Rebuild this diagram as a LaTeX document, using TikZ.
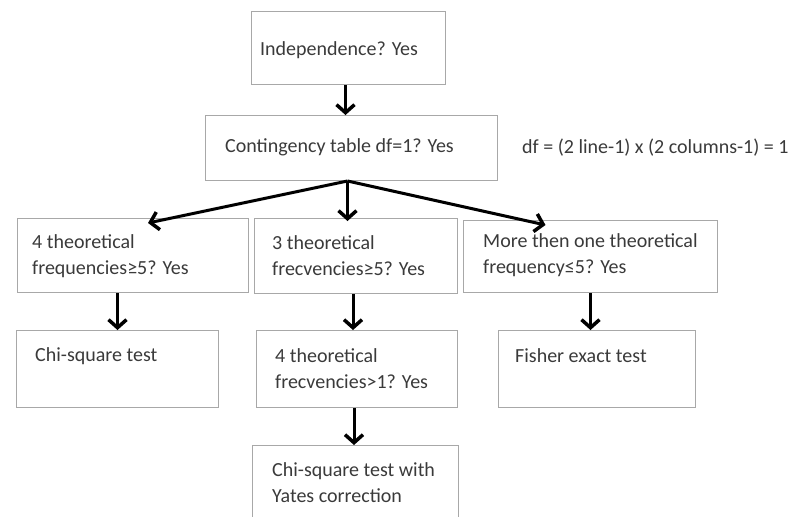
\documentclass[tikz,border=0pt]{standalone}
\usepackage{fontspec}
\setmainfont{Carlito}
\usetikzlibrary{arrows.meta,calc}
\definecolor{boxline}{HTML}{A8A8A8}
\definecolor{txt}{HTML}{3A3A3A}
\begin{document}
\begin{tikzpicture}[x=1pt,y=-1pt,
  box/.style={draw=boxline,line width=1pt,inner sep=0pt,anchor=north west},
  lbl/.style={text=txt,inner sep=0pt,align=left,font=\fontsize{20}{26}\selectfont},
  arr/.style={line width=3pt,-{Straight Barb[length=8pt,width=18pt,line width=3.5pt]}}]
\useasboundingbox (0,0) rectangle (796,517);
\clip (0,0) rectangle (796,517);
% boxes
\node[box,minimum width=194pt,minimum height=73pt] (b1) at (251,11) {};
\node[box,minimum width=292pt,minimum height=65pt] (b2) at (205,115) {};
\node[box,minimum width=231pt,minimum height=74pt] (l2) at (17,218) {};
\node[box,minimum width=203pt,minimum height=75pt] (m2) at (254,218) {};
\node[box,minimum width=254pt,minimum height=72pt] (r2) at (463,220) {};
\node[box,minimum width=202pt,minimum height=77pt] (c3) at (16,330) {};
\node[box,minimum width=201pt,minimum height=77pt] (m3) at (256,330) {};
\node[box,minimum width=197pt,minimum height=77pt] (f3) at (498,330) {};
\node[box,minimum width=206pt,minimum height=90pt] (y4) at (252,445) {};
% labels
\node[lbl,anchor=west] (t1) at (260,50) {Independence? Yes};
\node[lbl,anchor=west] (t2) at (225,147) {Contingency table df=1? Yes};
\node[lbl,anchor=west] (df) at (522,148) {df = (2 line-1) x (2 columns-1) = 1};
\node[lbl,anchor=west] (tl2) at (32,256) {4 theoretical\\frequencies≥5? Yes};
\node[lbl,anchor=west] (tm2) at (272,256) {3 theoretical\\frecvencies≥5? Yes};
\node[lbl,anchor=west] (tr2) at (483,255) {More then one theoretical\\frequency≤5? Yes};
\node[lbl,anchor=west] (tc3) at (35,356) {Chi-square test};
\node[lbl,anchor=west] (tm3) at (275,369) {4 theoretical\\frecvencies>1? Yes};
\node[lbl,anchor=west] (tf3) at (515,356) {Fisher exact test};
\node[lbl,anchor=west] (ty4) at (272,483) {Chi-square test with\\Yates correction};
% connectors
\draw[arr] ([xshift=-3pt]b1.south) -- ([xshift=-3pt]b1.south |- b2.north);
\coordinate (fork) at ([xshift=-4pt]b2.south);
\draw[arr] (fork) -- ([xshift=15pt,yshift=-5pt]l2.north);
\draw[arr] (fork) -- ([yshift=-3pt]fork |- m2.north);
\draw[arr] (fork) -- ([xshift=-45pt,yshift=-5pt]r2.north);
\draw[arr] (c3.north |- l2.south) -- (c3.north);
\draw[arr] ([xshift=-3pt]m2.south) -- ([xshift=-3pt]m2.south |- m3.north);
\draw[arr] (r2.south) -- (r2.south |- f3.north);
\draw[arr] ([xshift=-3pt]m3.south) -- ([xshift=-3pt]m3.south |- y4.north);
\end{tikzpicture}
\end{document}
